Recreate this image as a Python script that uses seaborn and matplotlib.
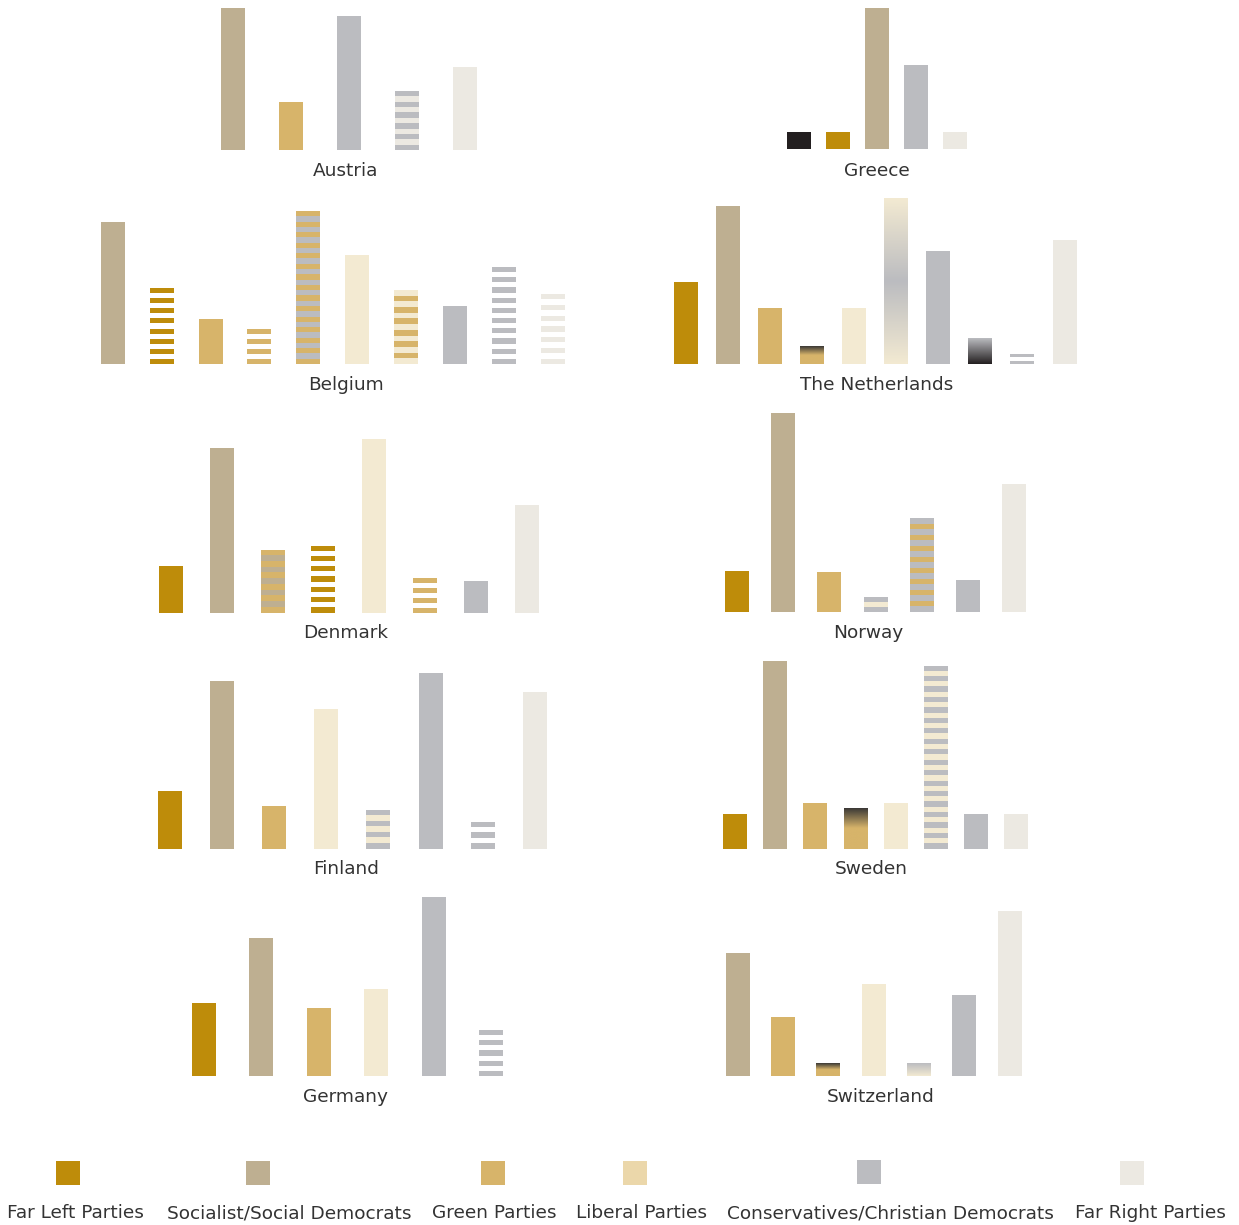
import numpy as np
import pandas as pd
import matplotlib
matplotlib.use("Agg")
import matplotlib.pyplot as plt
import matplotlib.patches as mpatches
from matplotlib.colors import LinearSegmentedColormap
import seaborn as sns

sns.set_style("white")
plt.rcParams["font.family"] = ["DejaVu Sans"]

# bar heights (read off the graphic, pixels above each baseline)
# party family codes: FL far left, SD socialist, GR green, LI liberal,
# CO conservative, FR far right, BK/DK black/dark. "A+B" = striped, "A>B" = gradient
austria_vals = [142, 48, 134, 59, 83]
austria_fam = ["SD", "GR", "CO", "CO+FR", "FR"]
greece_vals = [17, 17, 141, 84, 17]
greece_fam = ["BK", "FL", "SD", "CO", "FR"]
belgium_vals = [142, 76, 45, 35, 153, 109, 74, 58, 97, 70]
belgium_fam = ["SD", "FL", "GR", "GR", "GR+CO", "LI", "LI+GR", "CO", "CO", "FR"]
netherlands_vals = [82, 158, 56, 18, 56, 166, 113, 26, 10, 124]
netherlands_fam = ["FL", "SD", "GR", "DK>GR", "LI", "LI>CO>LI", "CO", "CO>BK", "CO", "FR"]
denmark_vals = [47, 165, 63, 67, 174, 35, 32, 108]
denmark_fam = ["FL", "SD", "GR+SD", "FL", "LI", "GR", "CO", "FR"]
norway_vals = [41, 199, 40, 15, 94, 32, 128]
norway_fam = ["FL", "SD", "GR", "CO+LI", "CO+GR", "CO", "FR"]
finland_vals = [58, 168, 43, 140, 39, 176, 27, 157]
finland_fam = ["FL", "SD", "GR", "LI", "CO+LI", "CO", "CO", "FR"]
sweden_vals = [35, 188, 46, 40, 46, 183, 35, 35]
sweden_fam = ["FL", "SD", "GR", "DK>GR", "LI", "CO+LI", "CO", "FR"]
germany_vals = [73, 138, 68, 87, 179, 46]
germany_fam = ["FL", "SD", "GR", "LI", "CO", "CO"]
switzerland_vals = [123, 59, 13, 92, 13, 81, 165]
switzerland_fam = ["SD", "GR", "DK>GR", "LI", "CO>LI", "CO", "FR"]

legend_labels = ["Far Left Parties", "Socialist/Social Democrats", "Green Parties",
                 "Liberal Parties", "Conservatives/Christian Democrats", "Far Right Parties"]

# styles
COLORS = {"FL": "#BE8C0A", "SD": "#BEAF91", "GR": "#D7B46A", "LI": "#F3EAD2",
          "CO": "#BBBCC0", "FR": "#ECE9E2", "BK": "#231F20", "DK": "#3A3836"}
legend_colors = ["#BE8C0A", "#BEAF91", "#D7B46A", "#EBD7AA", "#BBBCC0", "#ECE9E2"]
# gradient stops, bottom -> top
GRADS = {"DK>GR": ["#D7B46A", "#D7B46A", "#3A3836"],
         "LI>CO>LI": ["#F3EAD2", "#BBBCC0", "#F3EAD2"],
         "CO>BK": ["#231F20", "#BBBCC0"],
         "CO>LI": ["#F3EAD2", "#BBBCC0"]}
# number of coloured stripes per bar (0 = plain)
austria_str = [0, 0, 0, 6, 0]
greece_str = [0, 0, 0, 0, 0]
belgium_str = [0, 8, 0, 4, 15, 0, 7, 0, 10, 7]
netherlands_str = [0, 0, 0, 0, 0, 0, 0, 0, 2, 0]
denmark_str = [0, 0, 6, 7, 0, 4, 0, 0]
norway_str = [0, 0, 0, 2, 9, 0, 0]
finland_str = [0, 0, 0, 0, 4, 0, 3, 0]
sweden_str = [0, 0, 0, 0, 0, 18, 0, 0]
germany_str = [0, 0, 0, 0, 0, 5]
switzerland_str = [0, 0, 0, 0, 0, 0, 0]

# layout in pixels: first bar centre, spacing, baseline, label x, label y
W, H = 1239, 1225
AXH = 220
BAR_W = 24
LAYOUT = {
    "Austria": (233, 58, 150, 346, 171),
    "Greece": (799, 39, 149, 877, 171),
    "Belgium": (112.7, 48.9, 364, 346, 385),
    "The Netherlands": (686, 42.06, 364, 877, 385),
    "Denmark": (171, 50.8, 612.5, 346, 633),
    "Norway": (737, 46.2, 612, 868, 633),
    "Finland": (170, 52.1, 848.5, 346, 869),
    "Sweden": (735, 40.2, 848.5, 871, 869),
    "Germany": (204, 57.4, 1076, 346, 1097),
    "Switzerland": (738, 45.25, 1076, 881, 1097),
}
panels = [("Austria", austria_vals, austria_fam, austria_str),
          ("Greece", greece_vals, greece_fam, greece_str),
          ("Belgium", belgium_vals, belgium_fam, belgium_str),
          ("The Netherlands", netherlands_vals, netherlands_fam, netherlands_str),
          ("Denmark", denmark_vals, denmark_fam, denmark_str),
          ("Norway", norway_vals, norway_fam, norway_str),
          ("Finland", finland_vals, finland_fam, finland_str),
          ("Sweden", sweden_vals, sweden_fam, sweden_str),
          ("Germany", germany_vals, germany_fam, germany_str),
          ("Switzerland", switzerland_vals, switzerland_fam, switzerland_str)]

TXT = "#333333"
FS = 13.3

fig = plt.figure(figsize=(W / 100, H / 100), dpi=100)
fig.patch.set_facecolor("white")

for name, vals, fams, strs in panels:
    c0, s, base, lx, ly = LAYOUT[name]
    n = len(vals)
    ax = fig.add_axes([(c0 - s / 2) / W, 1 - base / H, n * s / W, AXH / H])
    ax.patch.set_alpha(0)
    df = pd.DataFrame({"bar": [f"{name} {i}" for i in range(n)], "share": vals})
    pal = []
    for f in fams:
        if ">" in f:
            pal.append(GRADS[f][0])
        else:
            pal.append(COLORS[f.split("+")[0]])
    sns.barplot(data=df, x="bar", y="share", hue="bar", palette=pal, legend=False,
                saturation=1, width=BAR_W / s, linewidth=0, ax=ax)
    bars = sorted(ax.patches, key=lambda p: p.get_x())
    for i, p in enumerate(bars):
        f = fams[i]
        x0, w, h = p.get_x(), p.get_width(), p.get_height()
        if ">" in f:
            cmap = LinearSegmentedColormap.from_list(f, GRADS[f])
            ax.imshow(np.linspace(0, 1, 256).reshape(-1, 1), extent=[x0, x0 + w, 0, h],
                      origin="lower", aspect="auto", cmap=cmap, zorder=3)
        elif strs[i]:
            m = 2 * strs[i] - 1
            t = h / m
            gap = COLORS[f.split("+")[1]] if "+" in f else "white"
            for j in range(1, m, 2):
                ax.bar(x0 + w / 2, t, bottom=j * t, width=w, color=gap, linewidth=0, zorder=3)
    ax.set_xlim(-0.5, n - 0.5)
    ax.set_ylim(0, AXH)
    ax.set_axis_off()
    fig.text(lx / W, 1 - ly / H, name, ha="center", va="center", fontsize=FS, color=TXT)

# legend
sq_left = [56, 246, 481, 623, 857, 1120]
sq_top = [1161, 1161, 1161, 1161, 1160, 1161]
lab_x = [75, 289, 494, 641, 890, 1150]
for lab, col, sx, st, tx in zip(legend_labels, legend_colors, sq_left, sq_top, lab_x):
    fig.add_artist(mpatches.Rectangle((sx / W, 1 - (st + 24) / H), 24 / W, 24 / H,
                                      transform=fig.transFigure, color=col, linewidth=0))
    fig.text(tx / W, 1 - 1213 / H, lab, ha="center", va="center", fontsize=FS, color=TXT)

fig.savefig("out.png", dpi=100)
